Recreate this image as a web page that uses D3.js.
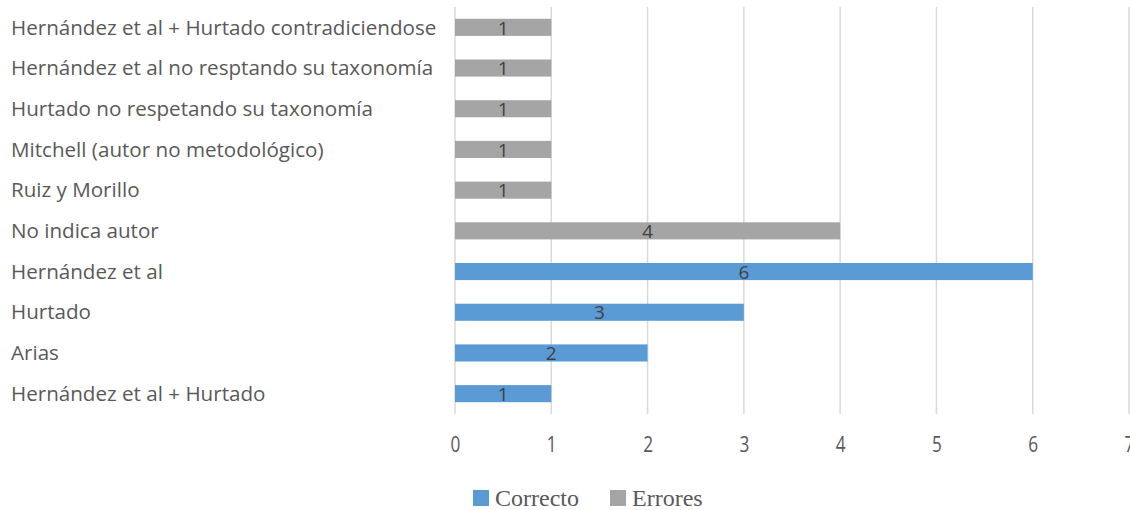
<!DOCTYPE html>
<html>
<head>
<meta charset="utf-8">
<script src="https://cdn.jsdelivr.net/npm/d3@7"></script>
<style>
  html, body { margin: 0; padding: 0; background: #fff; }
  svg { display: block; }
</style>
</head>
<body>
<svg id="chart" width="1130" height="510"></svg>
<script>
// Categories listed top to bottom
const categories = [
  "Hernández et al + Hurtado contradiciendose",
  "Hernández et al no resptando su taxonomía",
  "Hurtado no respetando su taxonomía",
  "Mitchell (autor no metodológico)",
  "Ruiz y Morillo",
  "No indica autor",
  "Hernández et al",
  "Hurtado",
  "Arias",
  "Hernández et al + Hurtado"
];
// Series values (null where the series has no bar for that category)
const correcto = [null, null, null, null, null, null, 6, 3, 2, 1];
const errores  = [1, 1, 1, 1, 1, 4, null, null, null, null];
const seriesNames = ["Correcto", "Errores"];
const seriesColors = ["#5b9bd5", "#a5a5a5"];
const xTicks = [0, 1, 2, 3, 4, 5, 6, 7];

const svg = d3.select("#chart");
const plot = { left: 455, right: 1129, top: 7, bottom: 414 };

const x = d3.scaleLinear().domain([0, 7]).range([plot.left, plot.right]);
const y = d3.scaleBand().domain(categories).range([plot.top, plot.bottom]).paddingInner(0.58).paddingOuter(0.29);

// vertical gridlines
svg.append("g").selectAll("line").data(xTicks).join("line")
  .attr("x1", d => x(d)).attr("x2", d => x(d))
  .attr("y1", plot.top).attr("y2", plot.bottom)
  .attr("stroke", "#d9d9d9").attr("stroke-width", 1.5);

// x axis tick labels (slightly condensed digits, baseline at 452)
const xAxis = d3.axisBottom(x).tickValues(xTicks).tickSize(0).tickPadding(0).tickFormat(d3.format("d"));
const gx = svg.append("g").attr("transform", "translate(0, 452)").call(xAxis);
gx.select(".domain").remove();
gx.selectAll("text")
  .attr("y", 0).attr("dy", 0)
  .attr("transform", "scale(0.82,1)")
  .attr("fill", "#595959").attr("font-size", 21)
  .attr("font-family", "'Open Sans', sans-serif");

// category labels (left aligned)
svg.append("g").selectAll("text").data(categories).join("text")
  .attr("x", 11).attr("y", d => y(d) + y.bandwidth() / 2)
  .attr("dy", "0.35em")
  .attr("fill", "#595959").attr("font-size", 20.6)
  .attr("font-family", "'Open Sans', sans-serif")
  .text(d => d);

// bars
const rows = categories.map((c, i) => {
  const s = correcto[i] != null ? 0 : 1;
  return { cat: c, value: s === 0 ? correcto[i] : errores[i], s };
});

svg.append("g").selectAll("rect").data(rows).join("rect")
  .attr("x", x(0)).attr("y", d => y(d.cat))
  .attr("width", d => x(d.value) - x(0))
  .attr("height", y.bandwidth())
  .attr("fill", d => seriesColors[d.s]);

// value labels centered on each bar
svg.append("g").selectAll("text").data(rows).join("text")
  .attr("x", d => (x(0) + x(d.value)) / 2)
  .attr("y", d => y(d.cat) + y.bandwidth() / 2)
  .attr("dy", "0.38em").attr("text-anchor", "middle")
  .attr("fill", "#404040").attr("font-size", 19)
  .attr("font-family", "'Open Sans', sans-serif")
  .text(d => d.value);

// legend
const legend = svg.append("g");
const legendX = [473, 610];
seriesNames.forEach((n, i) => {
  const g = legend.append("g").attr("transform", `translate(${legendX[i]}, 490)`);
  g.append("rect").attr("width", 16).attr("height", 16).attr("fill", seriesColors[i]);
  g.append("text").attr("x", 22).attr("y", 8).attr("dy", "0.35em")
    .attr("fill", "#595959").attr("font-size", 24)
    .attr("font-family", "'Liberation Serif', serif")
    .text(n);
});
</script>
</body>
</html>
